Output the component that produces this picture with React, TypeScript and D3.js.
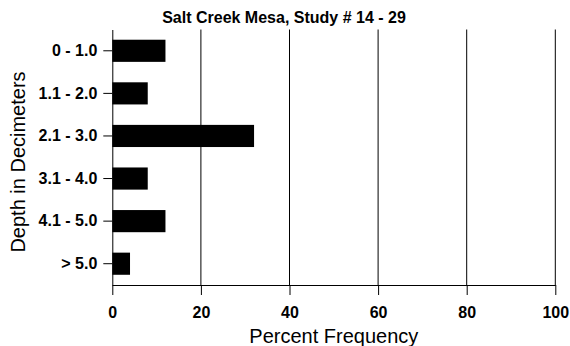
import React, { useEffect, useRef } from 'react';
import { select, scaleLinear, scaleBand, axisBottom, axisLeft } from 'd3';

const depths = ['0 - 1.0', '1.1 - 2.0', '2.1 - 3.0', '3.1 - 4.0', '4.1 - 5.0', '> 5.0'];
const frequency = [12, 8, 32, 8, 12, 4];
const xTicks = [0, 20, 40, 60, 80, 100];
const title = 'Salt Creek Mesa, Study # 14 - 29';
const xLabel = 'Percent Frequency';
const yLabel = 'Depth in Decimeters';

const W = 570;
const H = 346;

const App = () => {
  const svgRef = useRef(null);

  useEffect(() => {
    const svg = select(svgRef.current);
    svg.selectAll('*').remove();

    const margin = { top: 29.5, right: 14.7, bottom: 61, left: 112.3 };
    const font = 'Arial, "Liberation Sans", Helvetica, sans-serif';

    const x = scaleLinear()
      .domain([0, 100])
      .range([margin.left, W - margin.right]);

    const y = scaleBand()
      .domain(depths)
      .range([margin.top, H - margin.bottom])
      .paddingInner(0.48)
      .paddingOuter(0.24);

    const bottom = H - margin.bottom;

    // vertical grid
    svg
      .append('g')
      .selectAll('line')
      .data(xTicks.slice(1))
      .join('line')
      .attr('x1', (d) => x(d))
      .attr('x2', (d) => x(d))
      .attr('y1', margin.top)
      .attr('y2', bottom)
      .attr('stroke', '#000')
      .attr('stroke-width', 1);

    // bars
    svg
      .append('g')
      .selectAll('rect')
      .data(depths)
      .join('rect')
      .attr('x', x(0))
      .attr('y', (d) => y(d))
      .attr('width', (d, i) => x(frequency[i]) - x(0))
      .attr('height', y.bandwidth())
      .attr('fill', '#000');

    const xAxis = svg
      .append('g')
      .attr('transform', `translate(0,${bottom})`)
      .call(axisBottom(x).tickValues(xTicks).tickSize(10).tickSizeOuter(0).tickPadding(12));
    xAxis.select('.domain').attr('stroke', '#000');
    xAxis.selectAll('.tick line').attr('stroke', '#000');
    xAxis
      .selectAll('.tick text')
      .attr('fill', '#000')
      .attr('font-family', font)
      .attr('font-size', 16)
      .attr('font-weight', 'bold');

    const yAxis = svg
      .append('g')
      .attr('transform', `translate(${margin.left},0)`)
      .call(axisLeft(y).tickSize(9).tickSizeOuter(0).tickPadding(6));
    yAxis.select('.domain').attr('stroke', '#000');
    yAxis.selectAll('.tick line').attr('stroke', '#000');
    yAxis
      .selectAll('.tick text')
      .attr('fill', '#000')
      .attr('font-family', font)
      .attr('font-size', 16)
      .attr('font-weight', 'bold');

    svg
      .append('text')
      .attr('x', 284)
      .attr('y', 23)
      .attr('text-anchor', 'middle')
      .attr('font-family', font)
      .attr('font-size', 16)
      .attr('font-weight', 'bold')
      .text(title);

    svg
      .append('text')
      .attr('x', (x(0) + x(100)) / 2)
      .attr('y', 343)
      .attr('text-anchor', 'middle')
      .attr('font-family', font)
      .attr('font-size', 20)
      .text(xLabel);

    svg
      .append('text')
      .attr('transform', `translate(25,162) rotate(-90)`)
      .attr('text-anchor', 'middle')
      .attr('font-family', font)
      .attr('font-size', 20)
      .text(yLabel);
  }, []);

  return (
    <svg
      ref={svgRef}
      width={W}
      height={H}
      style={{ position: 'absolute', left: 0, top: 0, background: '#fff' }}
    />
  );
};

export default App;
